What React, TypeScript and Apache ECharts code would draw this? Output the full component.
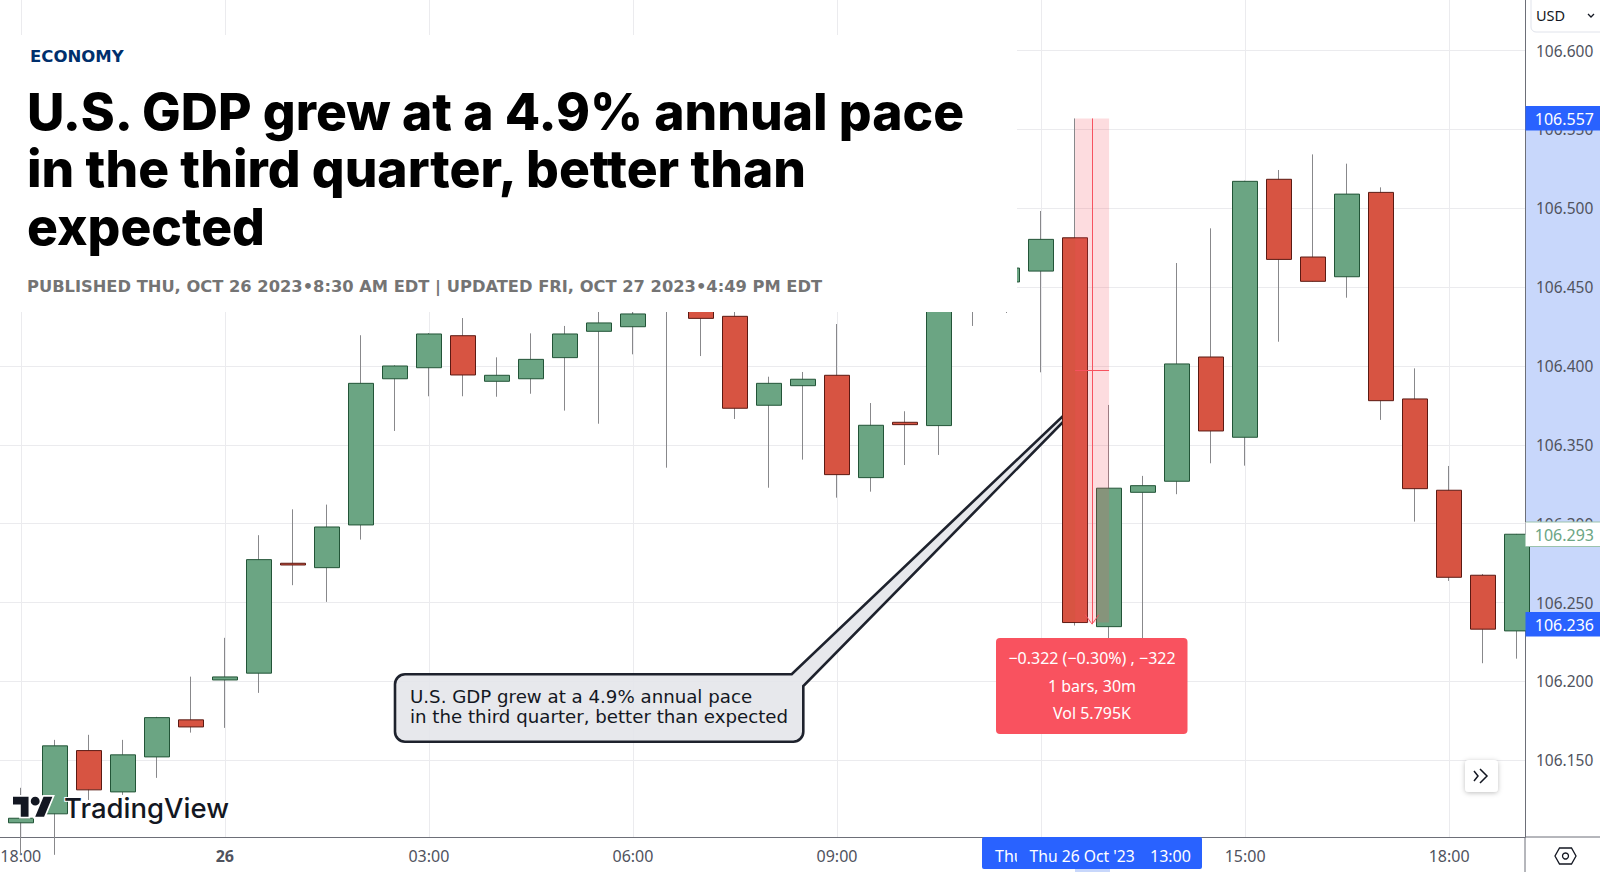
import { useEffect, useRef } from 'react';
import * as echarts from 'echarts';

// bar 0 is the 18:00 candle, the chart starts with part of the bar before it
const barIndex = [-1, 0, 1, 2, 3, 4, 5, 6, 7, 8, 9, 10, 11, 12, 13, 14, 15, 16, 17, 18, 19, 20, 21, 22, 23, 24, 25, 26, 27, 28, 29, 30, 31, 32, 33, 34, 35, 36, 37, 38, 39, 40, 41, 42, 43, 44];
const opens = [106.1229, 106.1103, 106.116, 106.1561, 106.1299, 106.1521, 106.1756, 106.2009, 106.2052, 106.2749, 106.2721, 106.2992, 106.3919, 106.3989, 106.4192, 106.3903, 106.3919, 106.4053, 106.422, 106.4249, 106.438, 106.4431, 106.4315, 106.3751, 106.3875, 106.3941, 106.3292, 106.3643, 106.3622, 106.4469, 106.4533, 106.4602, 106.4813, 106.2347, 106.3199, 106.3269, 106.4057, 106.3548, 106.5184, 106.4691, 106.4566, 106.5101, 106.3791, 106.3212, 106.2673, 106.232];
const closes = [106.109, 106.1132, 106.1591, 106.1312, 106.1534, 106.177, 106.1711, 106.2028, 106.2772, 106.2738, 106.2979, 106.389, 106.4, 106.4203, 106.3943, 106.3941, 106.4042, 106.4203, 106.4273, 106.433, 106.4431, 106.4302, 106.3732, 106.389, 106.3916, 106.3311, 106.3624, 106.3628, 106.4482, 106.4533, 106.4621, 106.4803, 106.2373, 106.3225, 106.3241, 106.4013, 106.3588, 106.5171, 106.4676, 106.4537, 106.509, 106.378, 106.3222, 106.266, 106.2331, 106.2933];
const lows = [106.1027, 106.09, 106.09, 106.1248, 106.128, 106.1388, 106.1675, 106.1705, 106.1927, 106.261, 106.2504, 106.2899, 106.3588, 106.3808, 106.3808, 106.3805, 106.3824, 106.3717, 106.3634, 106.4074, 106.3355, 106.4063, 106.3664, 106.3228, 106.3406, 106.3165, 106.3203, 106.3372, 106.3436, 106.4254, 106.4336, 106.396, 106.2354, 106.2263, 106.225, 106.3187, 106.3383, 106.3368, 106.4154, 106.4535, 106.4433, 106.3658, 106.3013, 106.2637, 106.2115, 106.2144];
const highs = [106.128, 106.1325, 106.1629, 106.1661, 106.1629, 106.1775, 106.203, 106.2276, 106.2927, 106.3091, 106.3121, 106.4195, 106.4005, 106.4209, 106.4304, 106.4055, 106.4207, 106.4254, 106.4387, 106.4355, 106.4482, 106.445, 106.4355, 106.3932, 106.3962, 106.4266, 106.3765, 106.3713, 106.4533, 106.4577, 106.4659, 106.4983, 106.557, 106.3753, 106.3303, 106.4653, 106.4873, 106.5175, 106.5243, 106.5342, 106.5283, 106.5133, 106.3985, 106.3366, 106.2681, 106.2935];

const priceTicks = [106.15, 106.2, 106.25, 106.3, 106.35, 106.4, 106.45, 106.5, 106.55, 106.6];
const timeTicks = [0, 6, 12, 18, 24, 30, 36, 42];
const labelledTicks = [0, 6, 12, 18, 24, 36, 42];
const timeLabels = ['18:00', '{b|26}', '03:00', '06:00', '09:00', '12:00', '15:00', '18:00'];

// measured range drawn over the 13:00 bar
const rangeBars = [31, 32];
const rangeHigh = 106.557;
const rangeLow = 106.2373;
const lastPrice = '106.293';

const UP = '#6ba583';
const DOWN = '#d75442';
const RANGE_RED = '#f7525f';
const TV_BLUE = '#2962ff';
const INK = '#131722';
const AXIS_COLOR = '#6d6f78';
const AXIS_FONT = '"Noto Sans", sans-serif';

echarts.graphic.registerShape(
  'callout',
  echarts.graphic.extendPath(
    'M405 674.3L791.7 674.3L1064 415L1064 421L803.3 686L803.3 731.7A10 10 0 0 1 793.3 741.7L405 741.7A10 10 0 0 1 395 731.7L395 684.3A10 10 0 0 1 405 674.3Z',
    {},
  ),
);
echarts.graphic.registerShape(
  'tvLogo',
  echarts.graphic.extendPath(
    'M14 22H7V11H0V4h14v18zM28 22h-8l7.5-18h8L28 22zM24 8a4 4 0 1 1-8 0a4 4 0 1 1 8 0z',
    {},
  ),
);

function priceTag(y: number, text: string, fill: string, color: string, z: number) {
  return [
    { type: 'rect', z, shape: { x: 1525.5, y, width: 74.5, height: 24.5 }, style: { fill } },
    {
      type: 'text',
      z: z + 1,
      x: 1594,
      y: y + 12.5,
      style: { text, fill: color, font: `16px ${AXIS_FONT}`, align: 'right', verticalAlign: 'middle' },
    },
  ];
}

export default function App() {
  const chartRef = useRef<HTMLDivElement>(null);

  useEffect(() => {
    if (!chartRef.current) return;

    const chart = echarts.init(chartRef.current, null, { renderer: 'svg' });

    const rangeMid = (rangeHigh + rangeLow) / 2;
    const rangeCentre = (rangeBars[0] + rangeBars[1]) / 2;

    const option: any = {
      animation: false,
      backgroundColor: '#ffffff',
      // the edge labels must not push the plot in, it fills the frame like the original
      grid: { left: 0, right: 75, top: 0, bottom: 35, outerBoundsMode: 'none' },
      xAxis: {
        type: 'value',
        min: -0.612,
        max: 44.23,
        axisLine: { onZero: false, lineStyle: { color: AXIS_COLOR, width: 1 } },
        axisTick: { show: false, customValues: timeTicks },
        splitLine: { show: true, lineStyle: { color: '#ebebee', width: 1 } },
        axisLabel: {
          customValues: labelledTicks,
          color: '#50535e',
          fontFamily: AXIS_FONT,
          fontSize: 16,
          margin: 11,
          formatter: (v: number) => timeLabels[timeTicks.indexOf(v)],
          rich: { b: { fontWeight: 'bold', color: '#50535e', fontFamily: AXIS_FONT, fontSize: 16 } },
        },
      },
      yAxis: {
        type: 'value',
        position: 'right',
        min: 106.1013,
        max: 106.6321,
        axisLine: { show: true, onZero: false, lineStyle: { color: AXIS_COLOR, width: 1 } },
        axisTick: { show: false, customValues: priceTicks },
        splitLine: { show: true, lineStyle: { color: '#ebebee', width: 1 } },
        axisLabel: {
          customValues: priceTicks,
          color: '#50535e',
          fontFamily: AXIS_FONT,
          fontSize: 15.5,
          margin: 11,
          formatter: (v: number) => v.toFixed(3),
        },
      },
      series: [
        {
          name: 'wicks',
          type: 'candlestick',
          barWidth: 1,
          itemStyle: { color: '#88888b', borderColor: '#88888b', borderWidth: 1 },
          data: barIndex.map((b, i) => [b, lows[i], highs[i], lows[i], highs[i]]),
        },
        {
          name: 'DXY',
          type: 'candlestick',
          barWidth: 26,
          itemStyle: {
            color: UP,
            color0: DOWN,
            borderColor: '#225437',
            borderColor0: '#5b1a13',
            borderWidth: 1,
          },
          data: barIndex.map((b, i) => [
            b,
            opens[i],
            closes[i],
            Math.min(opens[i], closes[i]),
            Math.max(opens[i], closes[i]),
          ]),
          markArea: {
            silent: true,
            z: 5,
            itemStyle: { color: 'rgba(247, 82, 95, 0.2)' },
            data: [[{ coord: [rangeBars[0], rangeHigh] }, { coord: [rangeBars[1], rangeLow] }]],
          },
          markLine: {
            silent: true,
            symbol: 'none',
            z: 6,
            label: { show: false },
            lineStyle: { color: RANGE_RED, width: 1, type: 'solid' },
            data: [
              [{ coord: [rangeCentre, rangeHigh] }, { coord: [rangeCentre, rangeLow - 0.001] }],
              [{ coord: [rangeBars[0], rangeMid] }, { coord: [rangeBars[1], rangeMid] }],
              [{ coord: [rangeCentre - 0.2, rangeLow + 0.005] }, { coord: [rangeCentre, rangeLow - 0.001] }],
              [{ coord: [rangeCentre + 0.2, rangeLow + 0.005] }, { coord: [rangeCentre, rangeLow - 0.001] }],
            ],
          },
        },
      ],
      graphic: {
        elements: [
          // blue strip on the price scale, under the axis labels
          { type: 'rect', z: -1, shape: { x: 1525.5, y: 118, width: 74.5, height: 505 }, style: { fill: '#c8d7fb' } },
          { type: 'rect', z: -1, shape: { x: 1075, y: 869, width: 35, height: 3 }, style: { fill: '#c8d7fb' } },

          // callout sits under the candles so its tip ends behind the red bar
          {
            type: 'callout',
            z: 1,
            x: 0,
            y: 0,
            style: { fill: 'rgba(228, 229, 234, 0.9)', stroke: '#1e222d', lineWidth: 2.6 },
          },
          {
            type: 'text',
            z: 1,
            x: 410,
            y: 687,
            style: {
              text: 'U.S. GDP grew at a 4.9% annual pace\nin the third quarter, better than expected',
              fill: INK,
              font: '18.2px "DejaVu Sans", sans-serif',
              lineHeight: 19.5,
            },
          },

          // article headline pasted over the chart
          { type: 'rect', z: 20, shape: { x: 0, y: 35, width: 1017, height: 277 }, style: { fill: '#ffffff' } },
          {
            type: 'text',
            z: 21,
            x: 30,
            y: 56,
            style: {
              text: 'ECONOMY',
              fill: '#002f6c',
              font: 'bold 16.5px "DejaVu Sans", sans-serif',
              verticalAlign: 'middle',
            },
          },
          {
            type: 'text',
            z: 21,
            x: 27,
            y: 82,
            style: {
              text: 'U.S. GDP grew at a 4.9% annual pace\nin the third quarter, better than\nexpected',
              fill: '#000000',
              font: '800 51.5px Inter, sans-serif',
              lineHeight: 57.5,
            },
          },
          {
            type: 'text',
            z: 21,
            x: 27,
            y: 286,
            style: {
              text: 'PUBLISHED THU, OCT 26 2023\u20228:30 AM EDT | UPDATED FRI, OCT 27 2023\u20224:49 PM EDT',
              fill: '#747474',
              font: 'bold 16.3px "DejaVu Sans", sans-serif',
              verticalAlign: 'middle',
            },
          },

          // TradingView mark, white halo first and the solid mark on top
          {
            type: 'tvLogo',
            z: 22,
            x: 13,
            y: 792.3,
            scaleX: 1.11,
            scaleY: 1.11,
            style: { fill: '#ffffff', stroke: '#ffffff', lineWidth: 3 },
          },
          {
            type: 'tvLogo',
            z: 23,
            x: 13,
            y: 792.3,
            scaleX: 1.11,
            scaleY: 1.11,
            style: { fill: INK },
          },
          {
            type: 'text',
            z: 22,
            x: 64,
            y: 808,
            style: {
              text: 'TradingView',
              fill: INK,
              font: '500 27.5px Inter, sans-serif',
              stroke: '#ffffff',
              lineWidth: 2,
              verticalAlign: 'middle',
            },
          },

          // measure tooltip
          { type: 'rect', z: 30, shape: { x: 996, y: 638, width: 191.5, height: 96, r: 4 }, style: { fill: '#f9525f' } },
          {
            type: 'text',
            z: 31,
            x: 1092,
            y: 658,
            style: { text: '\u22120.322 (\u22120.30%) , \u2212322', fill: '#fff', font: `16px ${AXIS_FONT}`, align: 'center', verticalAlign: 'middle' },
          },
          {
            type: 'text',
            z: 31,
            x: 1092,
            y: 685.5,
            style: { text: '1 bars, 30m', fill: '#fff', font: `16px ${AXIS_FONT}`, align: 'center', verticalAlign: 'middle' },
          },
          {
            type: 'text',
            z: 31,
            x: 1092,
            y: 713,
            style: { text: 'Vol 5.795K', fill: '#fff', font: `16px ${AXIS_FONT}`, align: 'center', verticalAlign: 'middle' },
          },

          // price scale tags
          ...priceTag(106, '106.557', TV_BLUE, '#ffffff', 32),
          ...priceTag(612, '106.236', TV_BLUE, '#ffffff', 32),
          ...priceTag(522, lastPrice, '#ffffff', UP, 32),
          { type: 'line', z: 34, shape: { x1: 1526, y1: 522, x2: 1600, y2: 522 }, style: { stroke: '#9cc3ad', lineWidth: 1 } },
          { type: 'line', z: 34, shape: { x1: 1526, y1: 546.5, x2: 1600, y2: 546.5 }, style: { stroke: '#9cc3ad', lineWidth: 1 } },

          // crosshair time label, the old date still peeks out on its left
          { type: 'rect', z: 32, shape: { x: 982, y: 837, width: 220, height: 32, r: 2 }, style: { fill: TV_BLUE } },
          {
            type: 'text',
            z: 33,
            x: 995,
            y: 856,
            style: { text: 'Thu', fill: '#fff', font: `16px ${AXIS_FONT}`, verticalAlign: 'middle' },
          },
          { type: 'rect', z: 34, shape: { x: 1017, y: 838, width: 170, height: 31 }, style: { fill: TV_BLUE } },
          {
            type: 'text',
            z: 35,
            x: 1029.5,
            y: 856,
            style: { text: "Thu 26 Oct '23", fill: '#fff', font: `15.7px ${AXIS_FONT}`, verticalAlign: 'middle' },
          },
          {
            type: 'text',
            z: 35,
            x: 1150,
            y: 856,
            style: { text: '13:00', fill: '#fff', font: `16px ${AXIS_FONT}`, verticalAlign: 'middle' },
          },

          // axis lines carried on past the plot
          { type: 'line', z: 3, shape: { x1: 1525, y1: 837, x2: 1600, y2: 837 }, style: { stroke: AXIS_COLOR, lineWidth: 1 } },
          { type: 'line', z: 3, shape: { x1: 1525, y1: 837, x2: 1525, y2: 872 }, style: { stroke: AXIS_COLOR, lineWidth: 1 } },

          // currency dropdown
          {
            type: 'rect',
            z: 3,
            shape: { x: 1531, y: -6, width: 75, height: 38, r: 5 },
            style: { fill: '#ffffff', stroke: '#e0e3eb', lineWidth: 1 },
          },
          {
            type: 'text',
            z: 4,
            x: 1536,
            y: 15,
            style: { text: 'USD', fill: INK, font: `14.5px ${AXIS_FONT}`, verticalAlign: 'middle' },
          },
          {
            type: 'polyline',
            z: 4,
            shape: { points: [[1588, 14], [1591, 17], [1594, 14]] },
            style: { stroke: INK, lineWidth: 1.3, fill: 'none' },
          },

          // scroll-to-latest button
          {
            type: 'rect',
            z: 5,
            shape: { x: 1465, y: 760, width: 33, height: 32, r: 4 },
            style: { fill: '#ffffff', shadowBlur: 5, shadowColor: 'rgba(0, 0, 0, 0.25)', shadowOffsetY: 1 },
          },
          {
            type: 'polyline',
            z: 6,
            shape: { points: [[1474, 771], [1478, 776], [1474, 781]] },
            style: { stroke: INK, lineWidth: 1.5, fill: 'none' },
          },
          {
            type: 'polyline',
            z: 6,
            shape: { points: [[1480, 769], [1487, 776], [1480, 783]] },
            style: { stroke: INK, lineWidth: 1.5, fill: 'none' },
          },

          // settings cog
          {
            type: 'polygon',
            z: 5,
            shape: { points: [[1559.5, 848], [1571.5, 848], [1576, 856], [1571.5, 864], [1559.5, 864], [1555, 856]] },
            style: { fill: 'none', stroke: INK, lineWidth: 1.3 },
          },
          {
            type: 'circle',
            z: 5,
            shape: { cx: 1565.5, cy: 856, r: 3 },
            style: { fill: 'none', stroke: INK, lineWidth: 1.3 },
          },
        ],
      },
    };

    chart.setOption(option);

    return () => {
      chart.dispose();
    };
  }, []);

  return <div ref={chartRef} style={{ position: 'fixed', left: 0, top: 0, width: 1600, height: 872 }} />;
}
